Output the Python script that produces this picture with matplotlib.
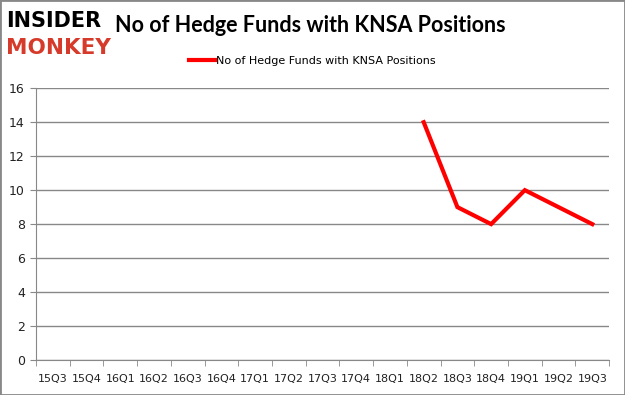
import matplotlib
matplotlib.use('Agg')
import matplotlib.pyplot as plt
from matplotlib.patches import Rectangle

quarters = ['15Q3', '15Q4', '16Q1', '16Q2', '16Q3', '16Q4', '17Q1', '17Q2', '17Q3',
            '17Q4', '18Q1', '18Q2', '18Q3', '18Q4', '19Q1', '19Q2', '19Q3']
fund_quarters = ['18Q2', '18Q3', '18Q4', '19Q1', '19Q2', '19Q3']
fund_counts = [14, 9, 8, 10, 9, 8]
y_ticks = [0, 2, 4, 6, 8, 10, 12, 14, 16]

fig = plt.figure(figsize=(6.25, 3.95), dpi=100)
ax = fig.add_axes([0.0576, 0.0886, 0.917, 0.688])

x_pos = [quarters.index(q) for q in fund_quarters]
ax.plot(x_pos, fund_counts, color='#ff0000', linewidth=3,
        label='No of Hedge Funds with KNSA Positions', solid_joinstyle='miter')

ax.set_xlim(-0.5, len(quarters) - 0.5)
ax.set_ylim(0, 16)
ax.set_yticks(y_ticks)
ax.set_xticks(range(len(quarters)))
ax.set_xticklabels(quarters, fontsize=8, family='DejaVu Sans', color='#222222')
ax.set_xticks([i - 0.5 for i in range(len(quarters) + 1)], minor=True)
ax.tick_params(axis='x', which='major', length=0, pad=10)
ax.tick_params(axis='x', which='minor', length=4, color='#888888')
ax.tick_params(axis='y', length=4, color='#888888', labelsize=9, labelcolor='#222222', pad=4)
ax.grid(axis='y', color='#888888', linewidth=1)
ax.set_axisbelow(True)
for s in ['top', 'right']:
    ax.spines[s].set_visible(False)
for s in ['left', 'bottom']:
    ax.spines[s].set_color('#888888')

fig.legend(loc='center', bbox_to_anchor=(0.5, 0.845), frameon=False,
           fontsize=8, handlelength=2.3, handletextpad=0.1)

fig.text(0.184, 0.935, 'No of Hedge Funds with KNSA Positions', fontsize=15.5,
         family='Lato', weight='bold', va='center', ha='left', color='black')
fig.text(0.010, 0.947, 'INSIDER', fontsize=15, weight='bold',
         family=['Liberation Sans Narrow', 'DejaVu Sans'],
         color='black', va='center', ha='left')
fig.text(0.010, 0.878, 'MONKEY', fontsize=15.5, weight='bold',
         family=['Liberation Sans Narrow', 'DejaVu Sans'],
         color='#d63a2a', va='center', ha='left')

fig.patches.append(Rectangle((0, 0), 1, 1, transform=fig.transFigure, fill=False,
                             edgecolor='#888888', linewidth=2))

fig.savefig('out.png', dpi=100)
